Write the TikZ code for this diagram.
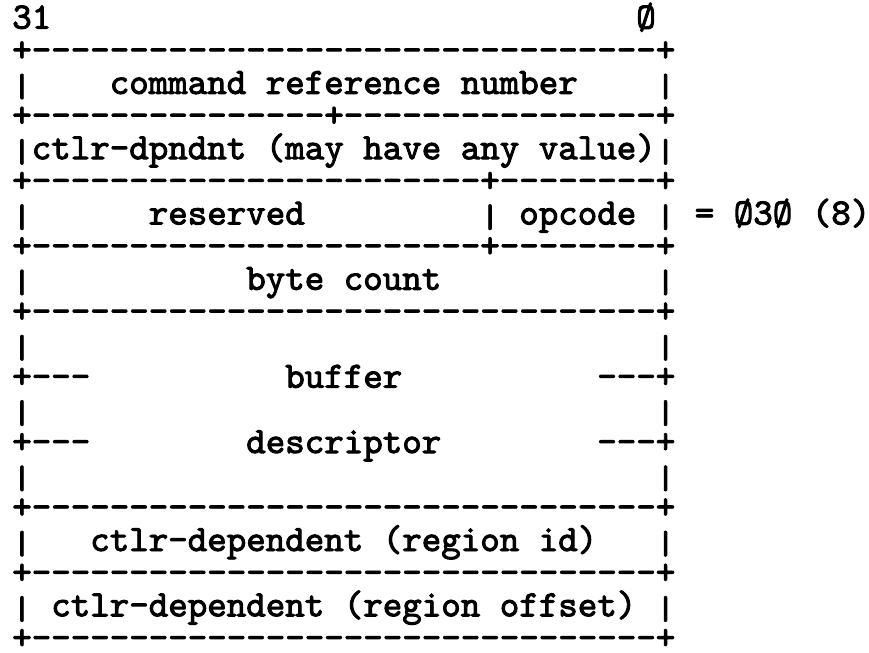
\documentclass[tikz,border=0pt]{standalone}
\usepackage{fontspec}
\usepackage{graphicx}
\newfontfamily\twfont{lmmono10-regular.otf}[FakeBold=2.5]
\newcommand\colsp[1]{\hskip#1\fontdimen2\font\relax}
\newcommand\dashrun[1]{\foreach\k in {1,...,#1}{\hbox{-}}}
\newcommand\vbar{\raisebox{\dimexpr 5.5pt-(\height-\depth)/2\relax}{\resizebox*{\width}{19pt}{|}}}
\tikzset{
  ascii/.style={anchor=base west, inner sep=0pt, outer sep=0pt,
    font={\twfont\fontsize{27.86pt}{32pt}\selectfont}, text=black}
}
\begin{document}
\begin{tikzpicture}[x=0.75pt,y=-0.75pt]
\fill[white] (0,0) rectangle (869,653);
\useasboundingbox (0,0) rectangle (869,653);
\def\xo{12.25}
\def\pitch{32.65}
\def\bone{28.6}
\node[ascii] (l1)  at (\xo,{\bone+0*\pitch})  {31\colsp{30}Ø};
\node[ascii] (l2)  at (\xo,{\bone+1*\pitch})  {+\dashrun{32}+};
\node[ascii] (l3)  at (\xo,{\bone+2*\pitch})  {\vbar\colsp{4}command reference number\colsp{4}\vbar};
\node[ascii] (l4)  at (\xo,{\bone+3*\pitch})  {+\dashrun{15}+\dashrun{16}+};
\node[ascii] (l5)  at (\xo,{\bone+4*\pitch})  {\vbar ctlr-dpndnt (may have any value)\vbar};
\node[ascii] (l6)  at (\xo,{\bone+5*\pitch})  {+\dashrun{23}+\dashrun{8}+};
\node[ascii] (l7)  at (\xo,{\bone+6*\pitch})  {\vbar\colsp{6}reserved\colsp{9}\vbar\ opcode \vbar\ = Ø3Ø (8)};
\node[ascii] (l8)  at (\xo,{\bone+7*\pitch})  {+\dashrun{23}+\dashrun{8}+};
\node[ascii] (l9)  at (\xo,{\bone+8*\pitch})  {\vbar\colsp{11}byte count\colsp{11}\vbar};
\node[ascii] (l10) at (\xo,{\bone+9*\pitch})  {+\dashrun{32}+};
\node[ascii] (l11) at (\xo,{\bone+10*\pitch}) {\vbar\colsp{32}\vbar};
\node[ascii] (l12) at (\xo,{\bone+11*\pitch}) {+\dashrun{3}\colsp{10}buffer\colsp{10}\dashrun{3}+};
\node[ascii] (l13) at (\xo,{\bone+12*\pitch}) {\vbar\colsp{32}\vbar};
\node[ascii] (l14) at (\xo,{\bone+13*\pitch}) {+\dashrun{3}\colsp{8}descriptor\colsp{8}\dashrun{3}+};
\node[ascii] (l15) at (\xo,{\bone+14*\pitch}) {\vbar\colsp{32}\vbar};
\node[ascii] (l16) at (\xo,{\bone+15*\pitch}) {+\dashrun{32}+};
\node[ascii] (l17) at (\xo,{\bone+16*\pitch}) {\vbar\colsp{3}ctlr-dependent (region id)\colsp{3}\vbar};
\node[ascii] (l18) at (\xo,{\bone+17*\pitch}) {+\dashrun{32}+};
\node[ascii] (l19) at (\xo,{\bone+18*\pitch}) {\vbar\colsp{1}ctlr-dependent (region offset)\colsp{1}\vbar};
\node[ascii] (l20) at (\xo,{\bone+19*\pitch}) {+\dashrun{32}+};
\end{tikzpicture}
\end{document}
